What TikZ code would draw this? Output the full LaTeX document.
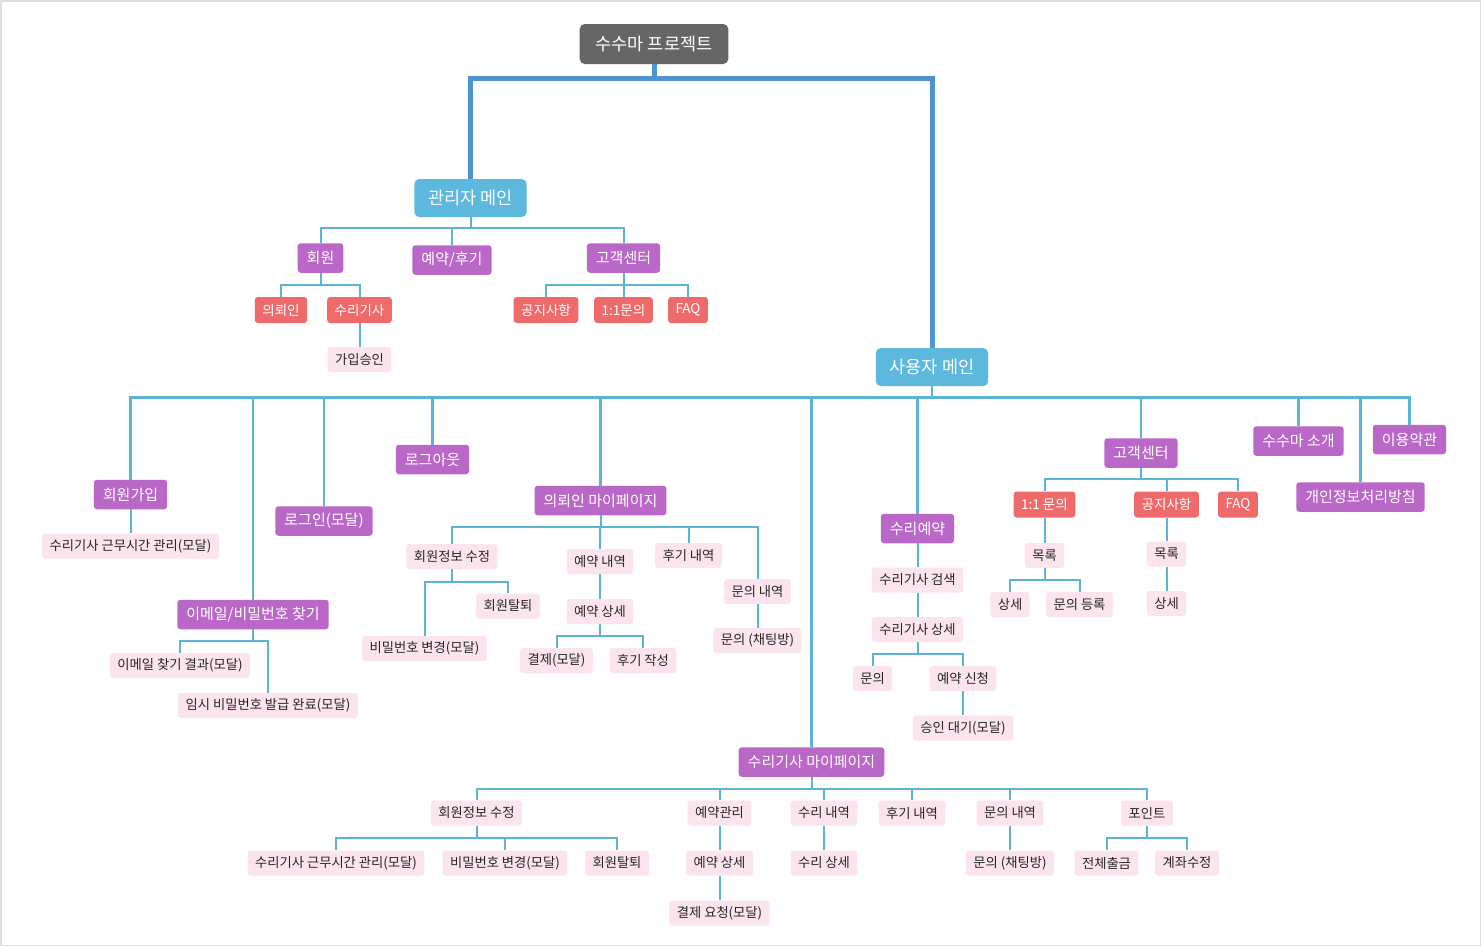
\documentclass[tikz,border=0pt]{standalone}
\usepackage{fontspec}
\setmainfont{Noto Sans CJK KR}
\usetikzlibrary{calc}
\definecolor{rootc}{HTML}{666666}
\definecolor{mainc}{HTML}{5DB8DD}
\definecolor{purc}{HTML}{BA68C8}
\definecolor{redc}{HTML}{EF6B6B}
\definecolor{pinkc}{HTML}{FCE4EC}
\definecolor{linec}{HTML}{5BB4D6}
\definecolor{thickc}{HTML}{4C94D2}
\begin{document}
\begin{tikzpicture}[x=1pt,y=-1pt,
    rootbox/.style={fill=rootc,text=white,rounded corners=5pt,minimum height=40pt,inner xsep=16pt,inner ysep=0pt,font=\fontsize{17.5}{19}\selectfont},
    mainbox/.style={fill=mainc,text=white,rounded corners=5pt,minimum height=38pt,inner xsep=14pt,inner ysep=0pt,font=\fontsize{17.5}{19}\selectfont},
    purbox/.style={fill=purc,text=white,rounded corners=3pt,minimum height=29.5pt,inner xsep=9pt,inner ysep=0pt,font=\fontsize{15}{17}\selectfont},
    redbox/.style={fill=redc,text=white,rounded corners=3pt,minimum height=26pt,inner xsep=7.5pt,inner ysep=0pt,font=\fontsize{13.5}{15}\selectfont},
    pinkbox/.style={fill=pinkc,text=black!85,rounded corners=3pt,minimum height=25pt,inner xsep=7.5pt,inner ysep=0pt,font=\fontsize{13.3}{15}\selectfont},
    ln/.style={draw=linec,line width=2pt},
    thickln/.style={draw=thickc,line width=5pt}]
    \useasboundingbox (0,0) rectangle (1481,946);
    \fill[white] (0,0) rectangle (1481,946);
    \draw[black!13,line width=1.5pt] (0.75,0.75) rectangle (1480.25,945.25);
    \node[rootbox](r)at(654,44){수수마 프로젝트};
    \node[mainbox](am)at(470.5,198){관리자 메인};
    \node[mainbox](um)at(932,367){사용자 메인};
    \node[purbox](a1)at(320.5,258){회원};
    \node[purbox](a2)at(452,260){예약/후기};
    \node[purbox](a3)at(623.5,258){고객센터};
    \node[redbox](a11)at(281,310){의뢰인};
    \node[redbox](a12)at(359.5,310){수리기사};
    \node[pinkbox](a121)at(359.5,359.5){가입승인};
    \node[redbox](a31)at(546,310){공지사항};
    \node[redbox](a32)at(623.5,310){1:1문의};
    \node[redbox](a33)at(688,310){FAQ};
    \node[purbox](join)at(130.5,494.5){회원가입};
    \node[pinkbox](joinw)at(130.5,546){수리기사 근무시간 관리(모달)};
    \node[purbox](find)at(253,614.5){이메일/비밀번호 찾기};
    \node[pinkbox](find1)at(180,665.5){이메일 찾기 결과(모달)};
    \node[pinkbox](find2)at(268,705.5){임시 비밀번호 발급 완료(모달)};
    \node[purbox](login)at(324,521){로그인(모달)};
    \node[purbox](logout)at(432.5,459.5){로그아웃};
    \node[purbox](cm)at(600.5,500.5){의뢰인 마이페이지};
    \node[pinkbox](cm1)at(452,556.5){회원정보 수정};
    \node[pinkbox](cm11)at(424.5,648.5){비밀번호 변경(모달)};
    \node[pinkbox](cm12)at(508,606){회원탈퇴};
    \node[pinkbox](cm2)at(600,561.5){예약 내역};
    \node[pinkbox](cm21)at(600,611.5){예약 상세};
    \node[pinkbox](cm211)at(556.5,660.5){결제(모달)};
    \node[pinkbox](cm212)at(643,660.5){후기 작성};
    \node[pinkbox](cm3)at(688.5,555.5){후기 내역};
    \node[pinkbox](cm4)at(757.5,591.5){문의 내역};
    \node[pinkbox](cm41)at(757.5,640.5){문의 (채팅방)};
    \node[purbox](tm)at(811.5,762){수리기사 마이페이지};
    \node[pinkbox](tm1)at(476.5,813){회원정보 수정};
    \node[pinkbox](tm11)at(336,863){수리기사 근무시간 관리(모달)};
    \node[pinkbox](tm12)at(505,863){비밀번호 변경(모달)};
    \node[pinkbox](tm13)at(617,863){회원탈퇴};
    \node[pinkbox](tm2)at(719.5,813){예약관리};
    \node[pinkbox](tm21)at(719.5,863){예약 상세};
    \node[pinkbox](tm211)at(719.5,913){결제 요청(모달)};
    \node[pinkbox](tm3)at(824,813){수리 내역};
    \node[pinkbox](tm31)at(824,863){수리 상세};
    \node[pinkbox](tm4)at(912,813){후기 내역};
    \node[pinkbox](tm5)at(1010,813){문의 내역};
    \node[pinkbox](tm51)at(1010,863){문의 (채팅방)};
    \node[pinkbox](tm6)at(1147,813){포인트};
    \node[pinkbox](tm61)at(1106.5,863){전체출금};
    \node[pinkbox](tm62)at(1187,863){계좌수정};
    \node[purbox](rsv)at(917.5,528.5){수리예약};
    \node[pinkbox](rsv1)at(917.5,580){수리기사 검색};
    \node[pinkbox](rsv2)at(917.5,629.5){수리기사 상세};
    \node[pinkbox](rsv21)at(872.5,678.5){문의};
    \node[pinkbox](rsv22)at(963,678.5){예약 신청};
    \node[pinkbox](rsv221)at(963,728){승인 대기(모달)};
    \node[purbox](cs)at(1141,453){고객센터};
    \node[redbox](cs1)at(1044.5,504.5){1:1 문의};
    \node[pinkbox](cs11)at(1044.5,555.5){목록};
    \node[pinkbox](cs111)at(1010,604.5){상세};
    \node[pinkbox](cs112)at(1079.5,604.5){문의 등록};
    \node[redbox](cs2)at(1166.5,504.5){공지사항};
    \node[pinkbox](cs21)at(1166.5,554){목록};
    \node[pinkbox](cs211)at(1166.5,603.5){상세};
    \node[redbox](cs3)at(1238,504.5){FAQ};
    \node[purbox](intro)at(1298.5,441){수수마 소개};
    \node[purbox](priv)at(1360.5,497){개인정보처리방침};
    \node[purbox](terms)at(1409.5,439.5){이용약관};
    \draw[thickln](r.south)--++(0,14)-|(am.north);
    \draw[thickln](r.south)--++(0,14)-|(um.north);
    \foreach \c in {a1,a2,a3} \draw[ln](am.south)--++(0,11)-|(\c.north);
    \foreach \c in {a11,a12} \draw[ln](a1.south)--++(0,12)-|(\c.north);
    \draw[ln](a12.south)--(a121.north);
    \foreach \c in {a31,a32,a33} \draw[ln](a3.south)--++(0,12)-|(\c.north);
    \foreach \c in {join,find,login,logout,cm,tm,rsv,cs,intro,priv,terms} \draw[ln,line width=2.6pt](um.south)--++(0,11)-|(\c.north);
    \draw[ln](join.south)--(joinw.north);
    \foreach \c in {find1,find2} \draw[ln](find.south)--++(0,12)-|(\c.north);
    \foreach \c in {cm1,cm2,cm3,cm4} \draw[ln](cm.south)--++(0,12)-|(\c.north);
    \foreach \c in {cm11,cm12} \draw[ln](cm1.south)--++(0,13)-|(\c.north);
    \draw[ln](cm2.south)--(cm21.north);
    \foreach \c in {cm211,cm212} \draw[ln](cm21.south)--++(0,12)-|(\c.north);
    \draw[ln](cm4.south)--(cm41.north);
    \foreach \c in {tm1,tm2,tm3,tm4,tm5,tm6} \draw[ln](tm.south)--++(0,12)-|(\c.north);
    \foreach \c in {tm11,tm12,tm13} \draw[ln](tm1.south)--++(0,12)-|(\c.north);
    \draw[ln](tm2.south)--(tm21.north);
    \draw[ln](tm21.south)--(tm211.north);
    \draw[ln](tm3.south)--(tm31.north);
    \draw[ln](tm5.south)--(tm51.north);
    \foreach \c in {tm61,tm62} \draw[ln](tm6.south)--++(0,12)-|(\c.north);
    \draw[ln](rsv.south)--(rsv1.north);
    \draw[ln](rsv1.south)--(rsv2.north);
    \foreach \c in {rsv21,rsv22} \draw[ln](rsv2.south)--++(0,12)-|(\c.north);
    \draw[ln](rsv22.south)--(rsv221.north);
    \foreach \c in {cs1,cs2,cs3} \draw[ln](cs.south)--++(0,11)-|(\c.north);
    \draw[ln](cs1.south)--(cs11.north);
    \foreach \c in {cs111,cs112} \draw[ln](cs11.south)--++(0,12)-|(\c.north);
    \draw[ln](cs2.south)--(cs21.north);
    \draw[ln](cs21.south)--(cs211.north);
\end{tikzpicture}
\end{document}
